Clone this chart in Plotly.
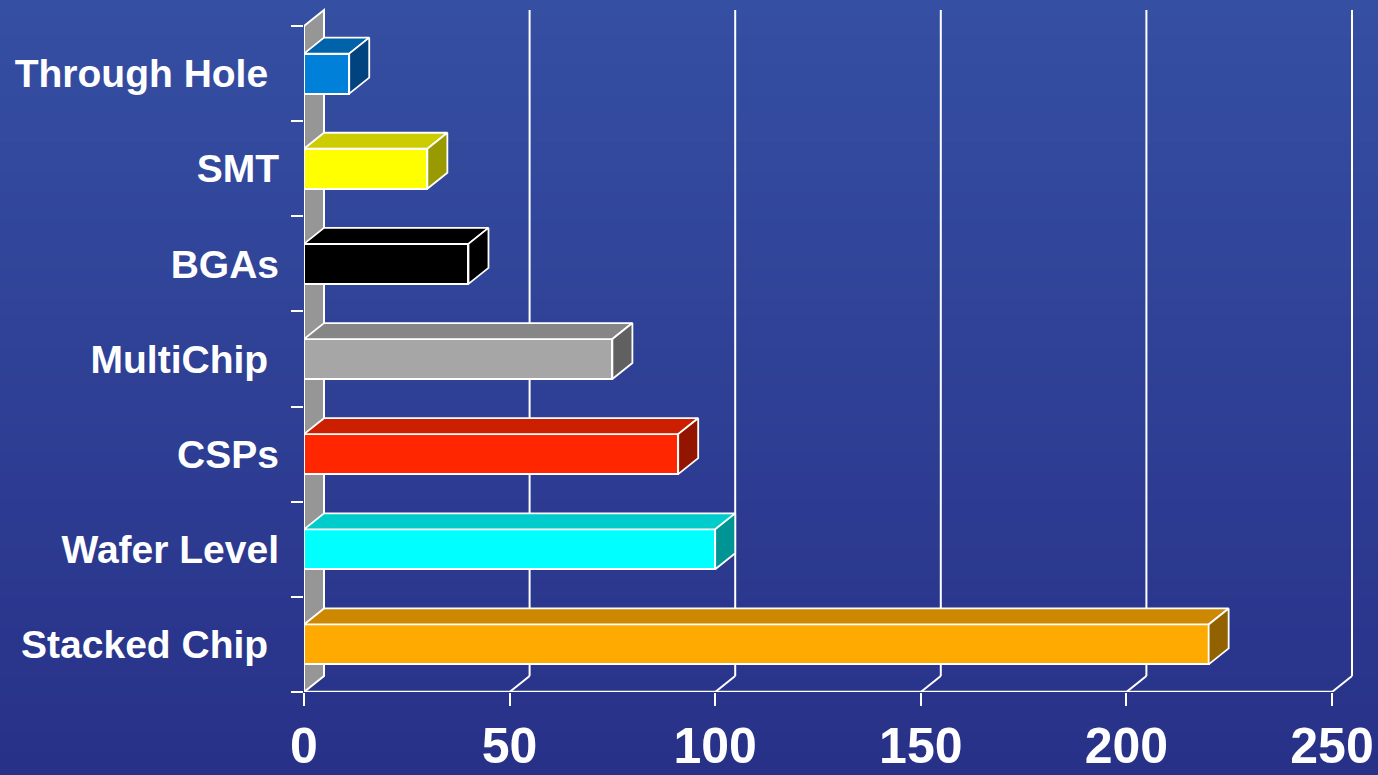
import plotly.graph_objects as go

# ---------------- data ----------------
categories = ["Stacked Chip", "Wafer Level", "CSPs", "MultiChip", "BGAs", "SMT", "Through Hole"]
label_text = ["Stacked Chip\u00a0", "Wafer Level", "CSPs", "MultiChip\u00a0", "BGAs", "SMT", "Through Hole\u00a0"]
values = [220, 100, 91, 75, 40, 30, 11]
front_colors = ["#FFAA00", "#00FFFF", "#FF2600", "#A6A6A6", "#000000", "#FFFF00", "#0080D8"]
top_colors = ["#CC8800", "#00CCCC", "#CC1F00", "#868686", "#000000", "#CCCC00", "#0062A8"]
side_colors = ["#926100", "#009494", "#931500", "#606060", "#000000", "#999900", "#00437F"]
x_ticks = [0, 50, 100, 150, 200, 250]
x_tick_labels = ["0", "50", "100", "150", "200", "250"]

# ---------------- geometry / style ----------------
DX = 4.864      # depth offset in x units
DY = 0.168      # depth offset in y units
BAR_W = 0.42
FONT = "Liberation Sans, Arial, sans-serif"
n = len(categories)
ypos = list(range(n))
y_lo, y_hi = -0.5, n - 0.5

W, H = 1378, 775
ML, MR, MT, MB = 304, 6, 7, 83
PW, PH = W - ML - MR, H - MT - MB
px_per_x = 4.112
x_max = PW / px_per_x

fig = go.Figure()

# front faces of the bars
fig.add_trace(go.Bar(
    x=values, y=ypos, orientation="h", width=BAR_W,
    marker=dict(color=front_colors, line=dict(color="white", width=2)),
    hoverinfo="skip", showlegend=False,
))

# top and side faces
for i, v in enumerate(values):
    c = ypos[i]
    h = BAR_W / 2
    fig.add_trace(go.Scatter(
        x=[0, DX, v + DX, v, 0],
        y=[c + h, c + h + DY, c + h + DY, c + h, c + h],
        mode="lines", fill="toself", fillcolor=top_colors[i],
        line=dict(color="white", width=1.8),
        hoverinfo="skip", showlegend=False,
    ))
    fig.add_trace(go.Scatter(
        x=[v, v + DX, v + DX, v, v],
        y=[c - h, c - h + DY, c + h + DY, c + h, c - h],
        mode="lines", fill="toself", fillcolor=side_colors[i],
        line=dict(color="white", width=1.8),
        hoverinfo="skip", showlegend=False,
    ))

shapes = []
# background gradient (bands spanning the whole page)
top_rgb = (53, 79, 162)
bot_rgb = (40, 49, 136)
NB = 80
px0, px1 = -ML / PW - 0.01, 1 + MR / PW + 0.01
py_bot, py_top = -MB / PH, 1 + MT / PH
span = py_top - py_bot
for k in range(NB):
    t = k / (NB - 1)
    col = tuple(round(top_rgb[j] + (bot_rgb[j] - top_rgb[j]) * t) for j in range(3))
    y1 = py_top - span * k / NB
    y0 = py_top - span * (k + 1) / NB
    shapes.append(dict(type="rect", xref="paper", yref="paper",
                       x0=px0, x1=px1, y0=y0 - 0.003, y1=y1 + 0.003,
                       fillcolor="rgb(%d,%d,%d)" % col, line=dict(width=0), layer="below"))

# back wall (left side)
shapes.append(dict(type="path", xref="x", yref="y", layer="below",
                   path=f"M 0 {y_lo} L {DX} {y_lo + DY} L {DX} {y_hi + DY} L 0 {y_hi} Z",
                   fillcolor="#969696", line=dict(color="white", width=2)))
# back gridlines + floor diagonals
for t in x_ticks[1:]:
    shapes.append(dict(type="line", xref="x", yref="y", layer="below",
                       x0=t + DX, x1=t + DX, y0=y_lo + DY, y1=y_hi + DY,
                       line=dict(color="white", width=2)))
    shapes.append(dict(type="line", xref="x", yref="y", layer="below",
                       x0=t, x1=t + DX, y0=y_lo, y1=y_lo + DY,
                       line=dict(color="white", width=2)))
# front floor line
shapes.append(dict(type="line", xref="x", yref="y", layer="below",
                   x0=x_ticks[0], x1=x_ticks[-1], y0=y_lo, y1=y_lo,
                   line=dict(color="white", width=2.5)))

fig.update_layout(
    width=W, height=H,
    margin=dict(l=ML, r=MR, t=MT, b=MB, autoexpand=False),
    paper_bgcolor="#2E409A",
    plot_bgcolor="rgba(0,0,0,0)",
    shapes=shapes,
    bargap=0,
    xaxis=dict(
        range=[0, x_max], tickmode="array", tickvals=x_ticks, ticktext=x_tick_labels,
        ticks="outside", ticklen=13, tickwidth=2, tickcolor="white",
        tickfont=dict(family=FONT, size=50, color="white", weight="bold"),
        ticklabelstandoff=-3, automargin=False,
        showgrid=False, zeroline=False, showline=False, fixedrange=True,
    ),
    yaxis=dict(
        range=[y_lo, n - 0.3], tickmode="array", tickvals=ypos, ticktext=label_text,
        ticks="", ticklabelstandoff=24, automargin=False,
        tickfont=dict(family=FONT, size=39, color="white", weight="bold"),
        minor=dict(tickmode="array", tickvals=[k - 0.5 for k in range(n + 1)],
                   ticks="outside", ticklen=12, tickwidth=2, tickcolor="white", showgrid=False),
        showgrid=False, zeroline=False, showline=False, fixedrange=True,
    ),
)

fig.write_html(
    "out.html",
    config={"displayModeBar": False},
    post_script="document.body.style.margin='0';document.body.style.overflow='hidden';",
)
